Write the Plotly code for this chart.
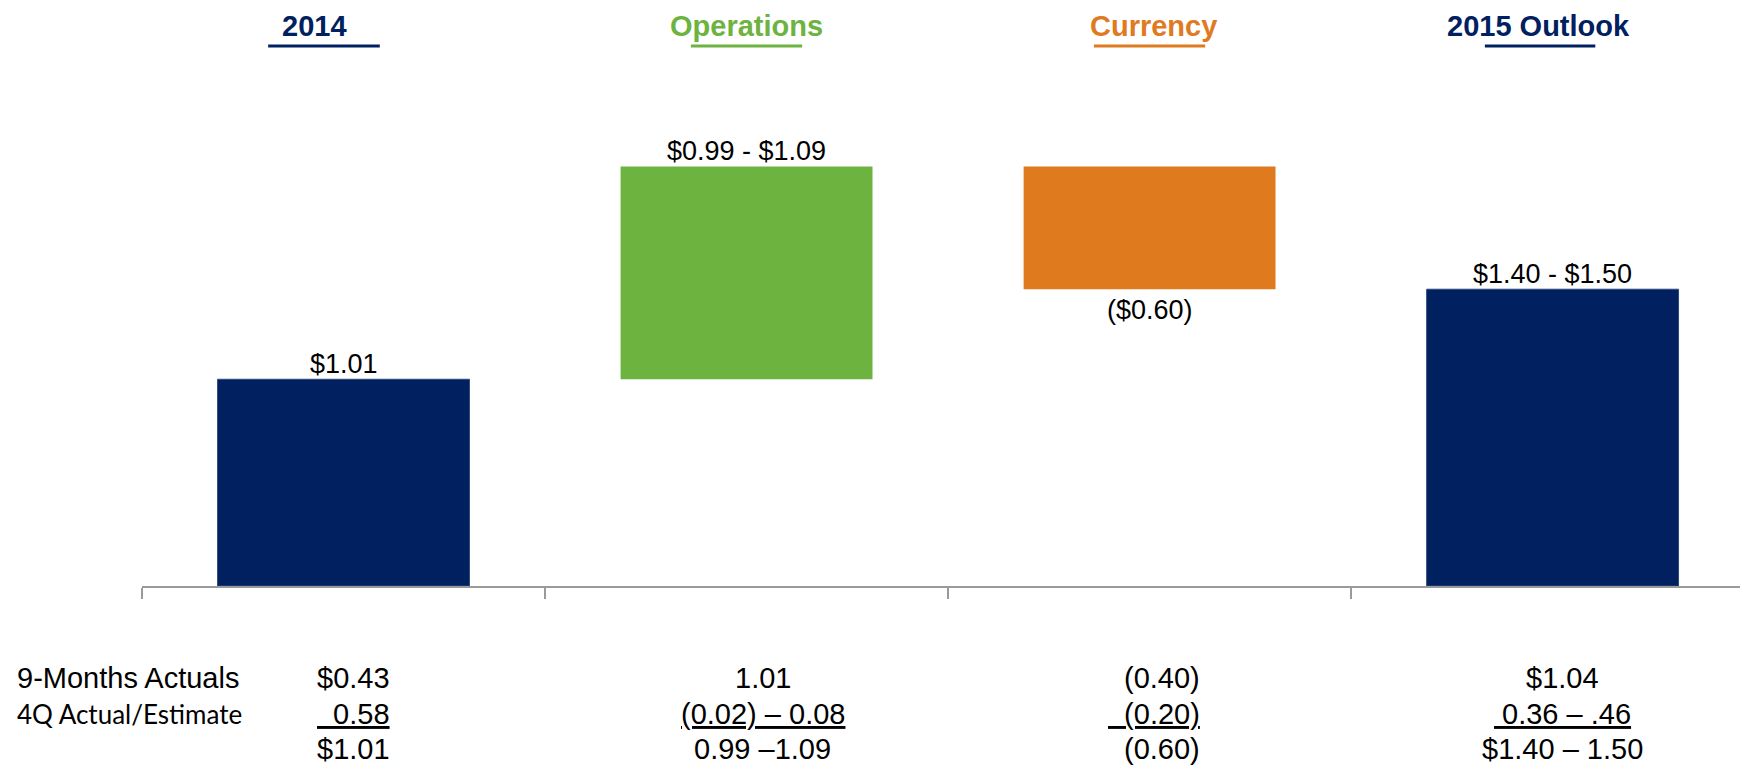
import plotly.graph_objects as go

# bridge values (EPS, $)
steps = ["2014", "Operations", "Currency", "2015 Outlook"]
measures = ["absolute", "relative", "relative", "total"]
values = [1.01, 1.04, -0.60, 0]
bar_labels = ["$1.01", "$0.99 - $1.09", "($0.60)", "$1.40 - $1.50"]

# table under the chart
row_labels = ["9-Months Actuals", "4Q Actual/Estimate", ""]
col_2014 = ["$0.43", "\u00a0\u00a00.58", "$1.01"]
col_ops = ["1.01", "(0.02) \u2013 0.08", "0.99 \u20131.09"]
col_fx = ["(0.40)", "\u00a0\u00a0(0.20)", "(0.60)"]
col_2015 = ["$1.04", "\u00a00.36 \u2013 .46", "$1.40 \u2013 1.50"]

NAVY = "#002060"
GREEN = "#6DB33F"
ORANGE = "#E07A1F"
header_colors = [NAVY, GREEN, ORANGE, NAVY]
FONT = "Liberation Sans, Arial, sans-serif"

W, H = 1740, 767
M_L, M_R, M_T, M_B = 142, 0, 60, 181
plot_h = H - M_T - M_B
plot_w = W - M_L - M_R


def py(pixel_y):
    # pixel row -> paper y
    return (H - M_B - pixel_y) / plot_h


def px_(pixel_x):
    # pixel column -> paper x
    return (pixel_x - M_L) / plot_w


fig = go.Figure(
    go.Waterfall(
        x=list(range(len(steps))),
        y=values,
        measure=measures,
        width=0.625,
        increasing=dict(marker=dict(color=GREEN)),
        decreasing=dict(marker=dict(color=ORANGE)),
        totals=dict(marker=dict(color=NAVY, line=dict(color="#2c4a7c", width=1))),
        connector=dict(visible=False),
        hoverinfo="skip",
    )
)

# value labels on the bars
running = 0
for i, (m, v, lab) in enumerate(zip(measures, values, bar_labels)):
    if m == "absolute":
        start, running = 0, v
    elif m == "relative":
        start, running = running, running + v
    else:
        start = 0
    top = max(start, running)
    bottom = min(start, running)
    if m == "relative" and v < 0:
        fig.add_annotation(x=i, y=bottom, xref="x", yref="y", text=lab, showarrow=False,
                           yanchor="top", yshift=-4, font=dict(size=27, color="#000", family=FONT))
    else:
        fig.add_annotation(x=i, y=top, xref="x", yref="y", text=lab, showarrow=False,
                           yanchor="bottom", yshift=-2, font=dict(size=27, color="#000", family=FONT))

# column headers with underline
head_dx = [-0.072, 0.0, 0.009, -0.034]
line_x = [(-0.187, 0.09), (-0.138, 0.138), (-0.138, 0.138), (-0.168, 0.106)]
for i, (name, col) in enumerate(zip(steps, header_colors)):
    fig.add_annotation(x=i + head_dx[i], y=py(26), xref="x", yref="paper", text=f"<b>{name}</b>",
                       showarrow=False, yanchor="middle", font=dict(size=29, color=col, family=FONT))
    fig.add_shape(type="line", xref="x", yref="paper", x0=i + line_x[i][0], x1=i + line_x[i][1],
                  y0=py(46), y1=py(46), line=dict(color=col, width=3))

# table
row_px = [678, 714, 749]
tfont = dict(size=29, color="#000", family=FONT)
for r, ypx in enumerate(row_px):
    if row_labels[r]:
        lf = tfont if r == 0 else dict(size=26, color="#000", family="Lato, Carlito, sans-serif")
        fig.add_annotation(x=px_(15), y=py(ypx), xref="paper", yref="paper", text=row_labels[r],
                           showarrow=False, xanchor="left", yanchor="middle", font=lf)
    cells = [
        (col_2014[r], 0.12, "right"),
        (col_ops[r], 1.04, "center"),
        (col_fx[r], 2.13, "right"),
        (col_2015[r], 3.025, "center"),
    ]
    for txt, xx, anchor in cells:
        if r == 1:
            txt = f"<u>{txt}</u>"
        fig.add_annotation(x=xx, y=py(ypx), xref="x", yref="paper", text=txt, showarrow=False,
                           xanchor=anchor, yanchor="middle", font=tfont)

fig.update_layout(
    width=W,
    height=H,
    margin=dict(l=M_L, r=M_R, t=M_T, b=M_B),
    plot_bgcolor="white",
    paper_bgcolor="white",
    showlegend=False,
    font=dict(family=FONT),
)
fig.update_xaxes(
    type="linear",
    range=[-0.5, 3.465],
    tickmode="array",
    tickvals=[-0.5, 0.5, 1.5, 2.5],
    ticktext=["", "", "", ""],
    ticks="outside",
    ticklen=11,
    tickwidth=1.5,
    tickcolor="#9a9a9a",
    showline=True,
    linecolor="#9a9a9a",
    linewidth=2,
    showgrid=False,
    zeroline=False,
)
fig.update_yaxes(range=[0, 2.57], visible=False)

fig.write_html("out.html", config={"displayModeBar": False},
               post_script="document.body.style.margin='0';")
